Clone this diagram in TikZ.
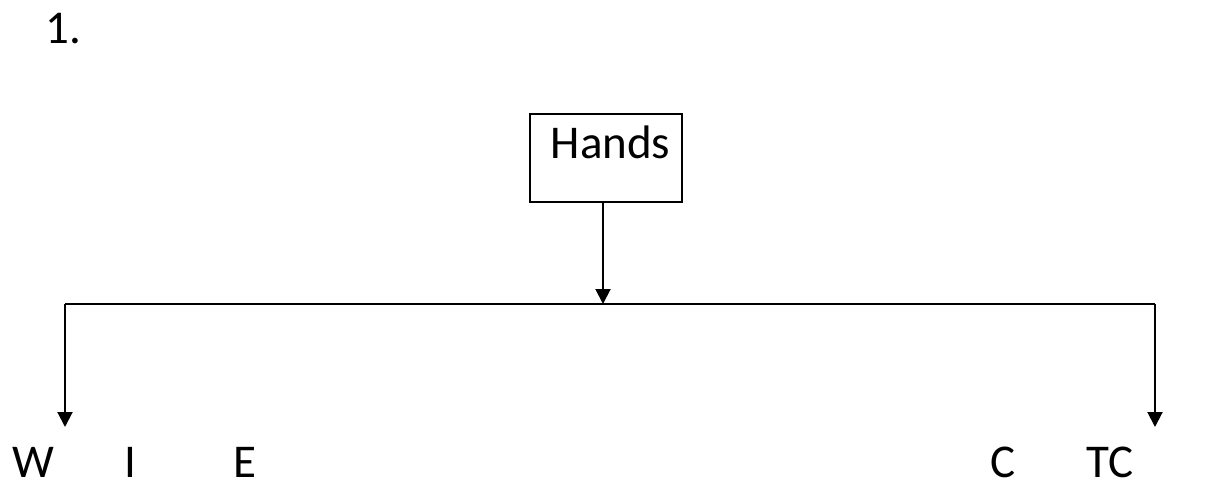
\documentclass[tikz,border=0pt]{standalone}
\usepackage{fontspec}
\setmainfont{Carlito}
\usetikzlibrary{arrows.meta}
\begin{document}
\begin{tikzpicture}[x=1pt,y=-1pt,
  bigfont/.style={font=\fontsize{47}{56}\selectfont},
  lbl/.style={bigfont, anchor=base west, inner sep=0pt},
  conn/.style={line width=2pt},
  arr/.style={conn, -{Triangle[width=15pt,length=15pt]}}]
\path[use as bounding box] (0,0) rectangle (1211,485);
\node[lbl] (num) at (45,43) {1.};
\node[draw, bigfont, line width=2pt, inner sep=0pt, text width=152pt, align=center,
  text height=44pt, text depth=44pt, anchor=base] (hands) at (606,158) {\hspace*{9pt}Hands};
\node[lbl] (w) at (12,477) {W};
\node[lbl] (i) at (124,477) {I};
\node[lbl] (e) at (233,477) {E};
\node[lbl] (c) at (990,477) {C};
\node[lbl] (tc) at (1086,477) {TC};
\coordinate (L) at (65,304);
\coordinate (M) at (603,304);
\coordinate (R) at (1155,304);
\coordinate (tipL) at (65,427);
\coordinate (tipR) at (1155,427);
\draw[arr] (M |- hands.south) -- (M);
\draw[conn] (L) -- (R);
\draw[arr] (L) -- (tipL);
\draw[arr] (R) -- (tipR);
\end{tikzpicture}
\end{document}
